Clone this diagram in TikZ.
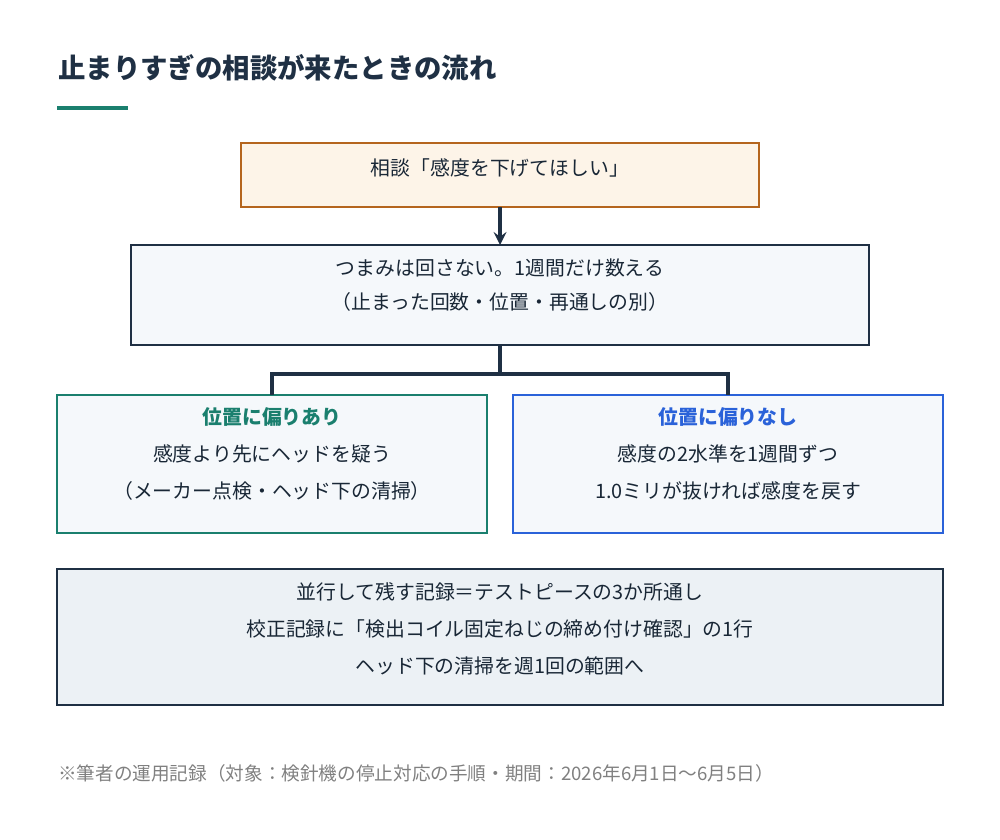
\documentclass[tikz,border=0pt]{standalone}
\usepackage{fontspec}
\setmainfont{Noto Sans CJK JP}
\usetikzlibrary{positioning}
\definecolor{navy}{RGB}{31,48,68}
\definecolor{tealc}{RGB}{26,127,110}
\definecolor{bluec}{RGB}{42,98,217}
\definecolor{brownc}{RGB}{181,101,29}
\definecolor{creamc}{RGB}{253,244,232}
\definecolor{palec}{RGB}{245,248,251}
\definecolor{greyc}{RGB}{236,241,245}
\definecolor{footc}{RGB}{128,128,128}
\tikzset{%
    box/.style={draw=navy, fill=palec, line width=1.2pt, align=center,
      font=\fontsize{11.3pt}{21pt}\selectfont, text=navy!80!black, inner sep=0pt},
    link/.style={draw=navy, line width=2.2pt}
}
\begin{document}
\begin{tikzpicture}[x=0.02cm,y=-0.02cm,>=stealth]
  \useasboundingbox (0,0) rectangle (1000,839);

  \node[anchor=west, font=\fontsize{15.6pt}{18pt}\selectfont\bfseries, text=navy] (title) at (52,68) {止まりすぎの相談が来たときの流れ};
  \draw[tealc, line width=2.2pt] (57,108) -- (128,108);

  \draw[box, draw=brownc, fill=creamc] (241,143) rectangle (759,207);
  \node[box, draw=none, fill=none] (req) at (500,168) {相談「感度を下げてほしい」};
  \draw[box] (131,245) rectangle (869,345);
  \node[box, draw=none, fill=none, font=\fontsize{11.3pt}{19pt}\selectfont] (count) at (500,285)
    {つまみは回さない。1週間だけ数える\\（止まった回数・位置・再通しの別）};
  \draw[box, draw=tealc] (57,395) rectangle (487,533);
  \node[box, draw=none, fill=none] (bias) at (272,454)
    {\textcolor{tealc}{\bfseries 位置に偏りあり}\\感度より先にヘッドを疑う\\（メーカー点検・ヘッド下の清掃）};
  \draw[box, draw=bluec] (513,395) rectangle (943,533);
  \node[box, draw=none, fill=none] (nobias) at (728,454)
    {\textcolor{bluec}{\bfseries 位置に偏りなし}\\感度の2水準を1週間ずつ\\1.0ミリが抜ければ感度を戻す};
  \draw[box, fill=greyc] (57,569) rectangle (943,705);
  \node[box, draw=none, fill=none] (record) at (500,629)
    {並行して残す記録＝テストピースの3か所通し\\校正記録に「検出コイル固定ねじの締め付け確認」の1行\\ヘッド下の清掃を週1回の範囲へ};

  \node[anchor=west, font=\fontsize{10.6pt}{12pt}\selectfont, text=footc] (note) at (52,773)
    {※筆者の運用記録（対象：検針機の停止対応の手順・期間：2026年6月1日～6月5日）};

  \coordinate (reqS) at (500,207);
  \coordinate (countN) at (500,245);
  \coordinate (countS) at (500,345);
  \coordinate (fork) at (500,374);
  \coordinate (biasN) at (272,395);
  \coordinate (nobiasN) at (728,395);
  \draw[link, ->] (reqS) -- (countN);
  \draw[link] (countS) -- (fork);
  \draw[link] (fork) -| (biasN);
  \draw[link] (fork) -| (nobiasN);
\end{tikzpicture}
\end{document}
